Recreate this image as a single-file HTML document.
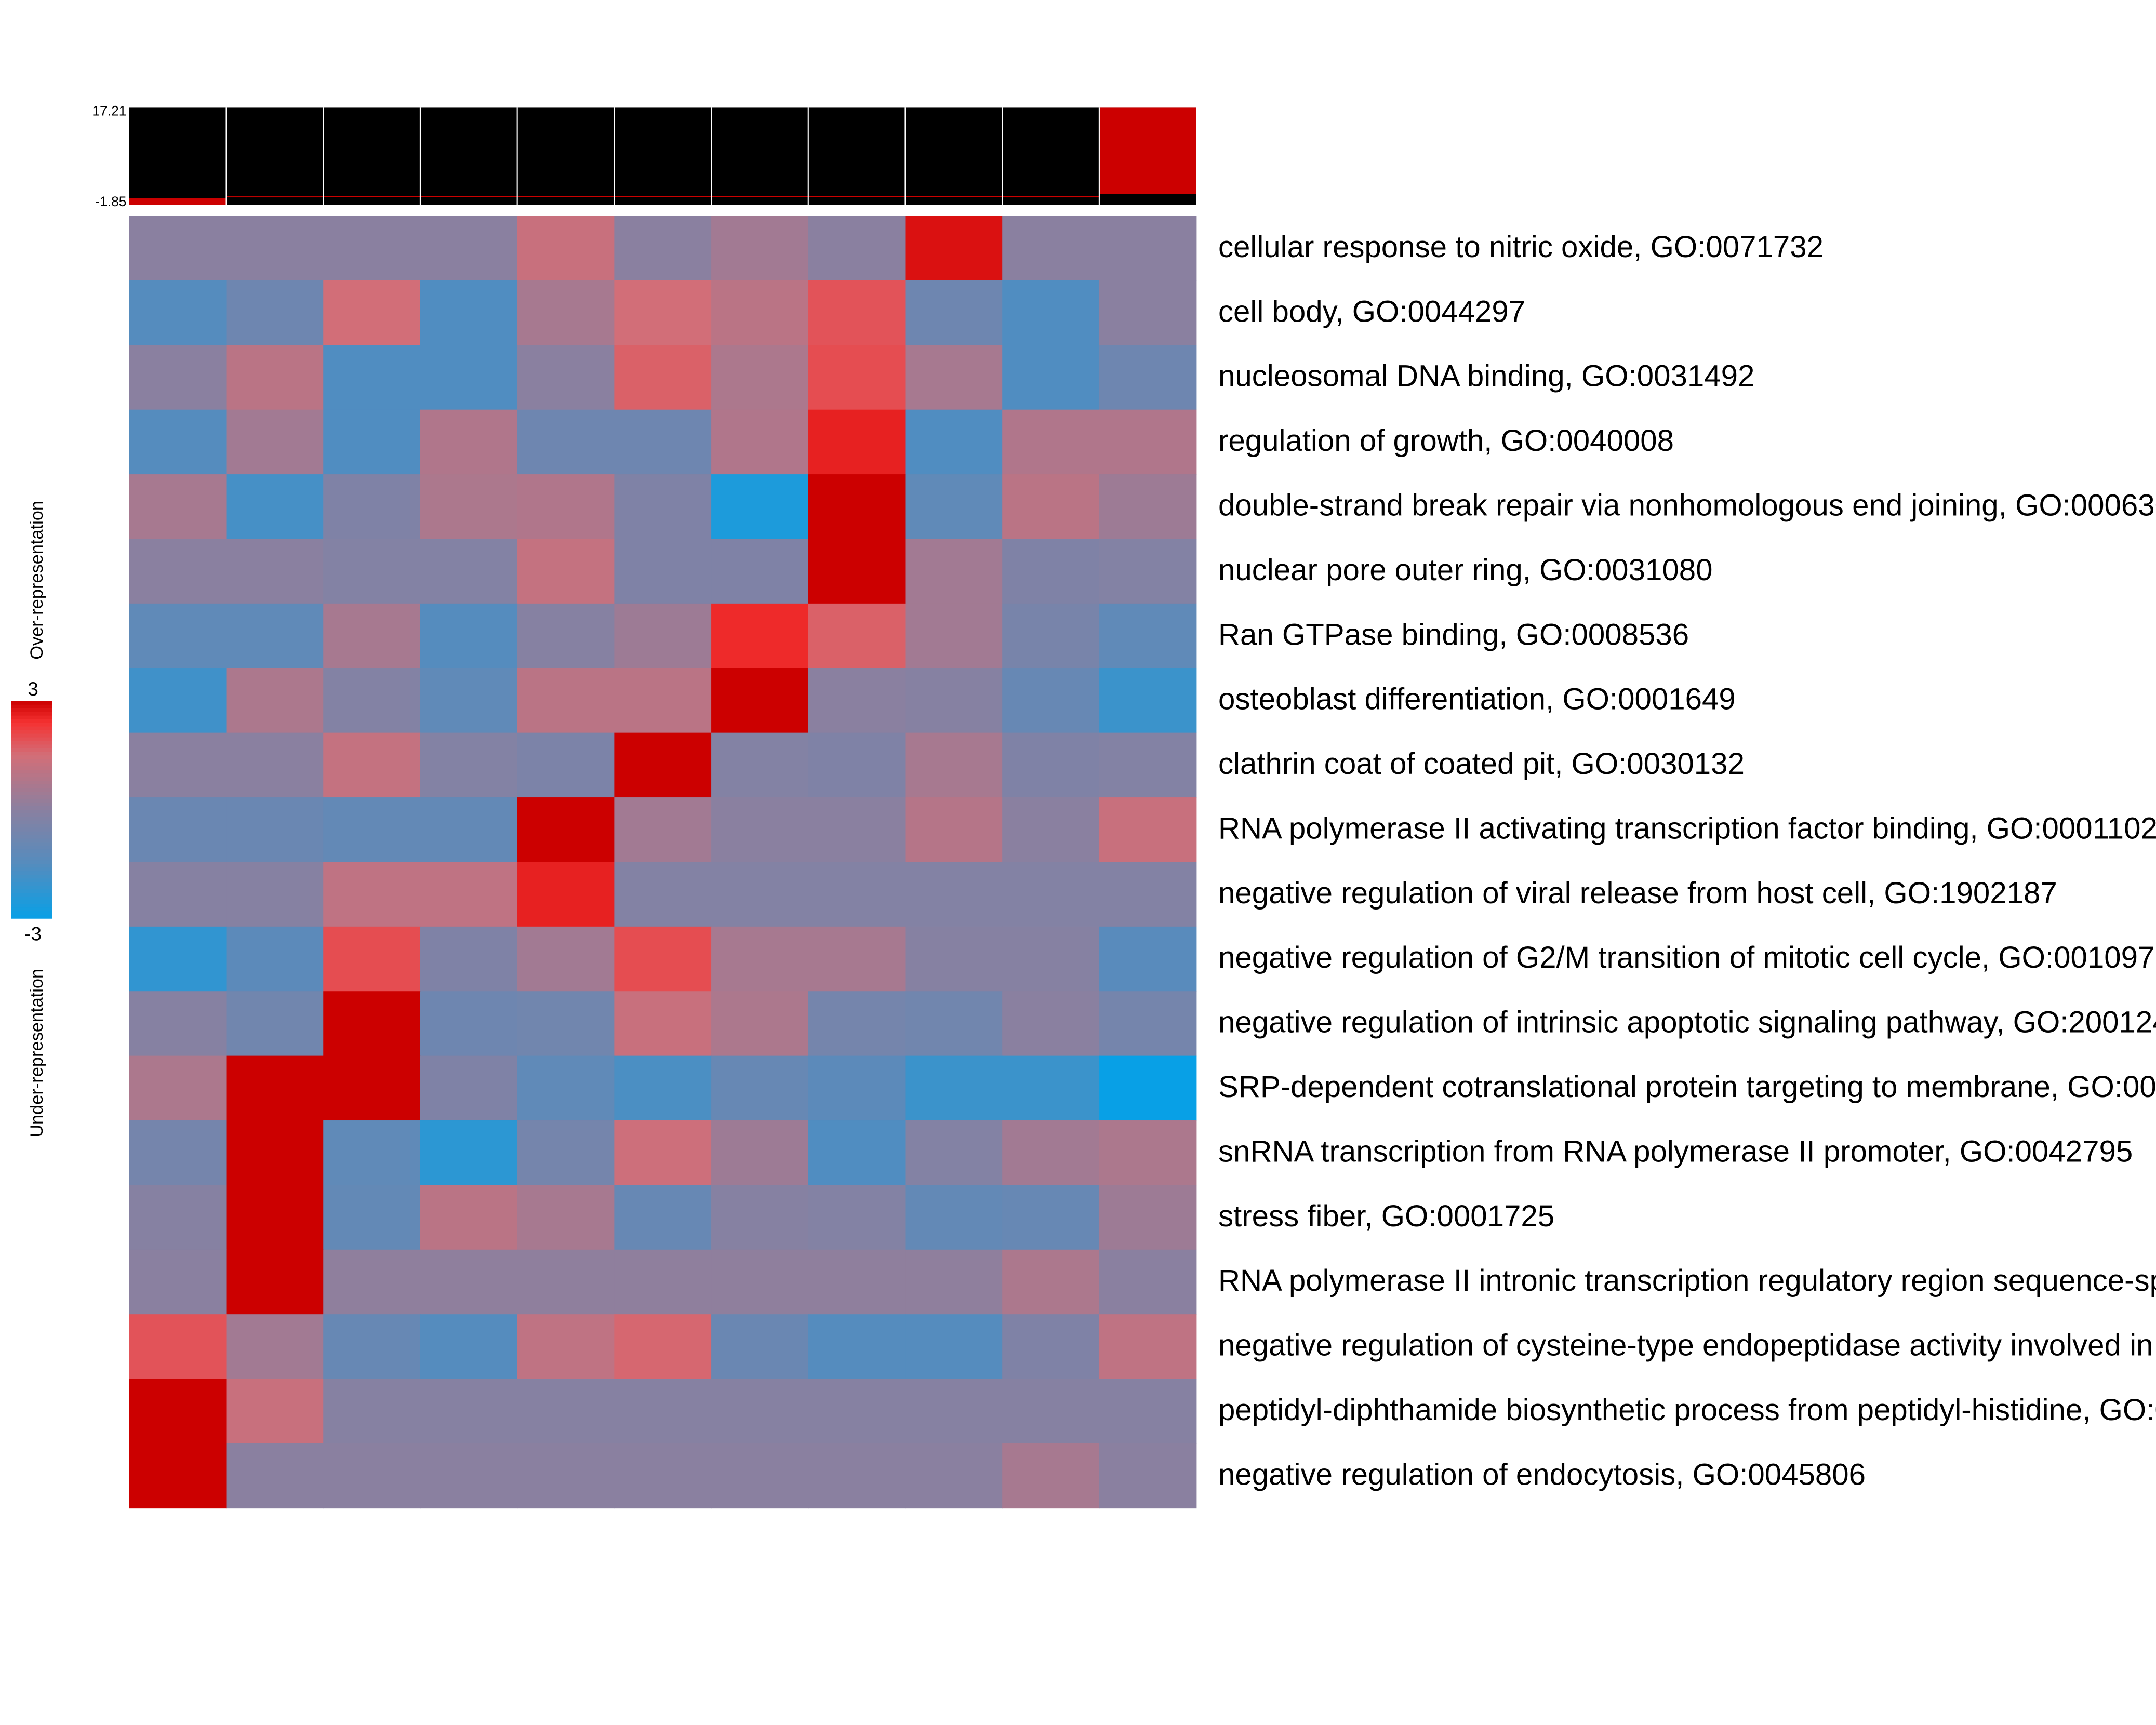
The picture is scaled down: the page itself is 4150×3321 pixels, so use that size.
<!DOCTYPE html>
<html><head><meta charset="utf-8">
<style>
html,body{margin:0;padding:0;background:#fff;}
svg{display:block;font-family:"Liberation Sans",Arial,sans-serif;}
</style></head>
<body>
<svg id="chart" width="4150" height="3321" viewBox="0 0 1568 1254.8" xmlns="http://www.w3.org/2000/svg">
<rect width="1568" height="1254.8" fill="#fff"/>
<g id="topbars"></g>
<g id="cells"></g>
<g id="labels"></g>
<g id="legend"></g>
<text x="92" y="84" text-anchor="end" font-size="10">17.21</text>
<text x="92" y="150" text-anchor="end" font-size="10">-1.85</text>
<text x="24" y="506" text-anchor="middle" font-size="14">3</text>
<text x="24" y="684" text-anchor="middle" font-size="14">-3</text>
<text transform="translate(31,422) rotate(-90)" text-anchor="middle" font-size="13">Over-representation</text>
<text transform="translate(31,766) rotate(-90)" text-anchor="middle" font-size="13">Under-representation</text>
</svg>
<script>
const rowLabels = [
"cellular response to nitric oxide, GO:0071732",
"cell body, GO:0044297",
"nucleosomal DNA binding, GO:0031492",
"regulation of growth, GO:0040008",
"double-strand break repair via nonhomologous end joining, GO:0006303",
"nuclear pore outer ring, GO:0031080",
"Ran GTPase binding, GO:0008536",
"osteoblast differentiation, GO:0001649",
"clathrin coat of coated pit, GO:0030132",
"RNA polymerase II activating transcription factor binding, GO:0001102",
"negative regulation of viral release from host cell, GO:1902187",
"negative regulation of G2/M transition of mitotic cell cycle, GO:0010972",
"negative regulation of intrinsic apoptotic signaling pathway, GO:2001243",
"SRP-dependent cotranslational protein targeting to membrane, GO:0006614",
"snRNA transcription from RNA polymerase II promoter, GO:0042795",
"stress fiber, GO:0001725",
"RNA polymerase II intronic transcription regulatory region sequence-specific DNA binding, GO:0001161",
"negative regulation of cysteine-type endopeptidase activity involved in apoptotic process, GO:0043154",
"peptidyl-diphthamide biosynthetic process from peptidyl-histidine, GO:0017183",
"negative regulation of endocytosis, GO:0045806"
];
const r01=[0,0,0,0,1.3,0,0.5,0,2.8,0,0];
const r02=[-1.5,-0.8,1.5,-1.6,0.6,1.5,1.0,1.9,-0.8,-1.6,0];
const r03=[0,1.0,-1.6,-1.6,0,1.7,0.7,2.0,0.6,-1.6,-0.8];
const r04=[-1.5,0.5,-1.6,0.8,-0.8,-0.8,0.8,2.6,-1.6,0.8,0.8];
const r05=[0.6,-1.8,-0.3,0.7,0.8,-0.3,-2.6,3,-1.2,1.0,0.4];
const r06=[0,0,-0.2,-0.2,1.2,-0.3,-0.3,3,0.5,-0.3,-0.2];
const r07=[-1.2,-1.2,0.6,-1.5,-0.1,0.4,2.5,1.7,0.5,-0.5,-1.2];
const r08=[-1.9,0.7,-0.2,-1.2,1.0,1.0,3,0,-0.1,-1.0,-2.0];
const r09=[0,0,1.2,-0.2,-0.4,3,-0.2,-0.3,0.6,-0.3,-0.2];
const r10=[-0.9,-0.9,-1.1,-1.1,3,0.5,0,0,0.9,0,1.3];
const r11=[-0.1,-0.1,1.1,1.1,2.6,-0.2,-0.2,-0.2,-0.2,-0.2,-0.2];
const r12=[-2.2,-1.3,2.0,-0.3,0.5,2.0,0.6,0.6,-0.1,-0.1,-1.4];
const r13=[-0.1,-0.7,3,-0.8,-0.7,1.3,0.7,-0.6,-0.7,0,-0.6];
const r14=[0.7,3,3,-0.3,-1.2,-1.7,-1.0,-1.3,-2.0,-2.0,-3];
const r15=[-0.6,3,-1.2,-2.3,-0.6,1.4,0.4,-1.6,-0.2,0.5,0.7];
const r16=[-0.1,3,-1.1,1.0,0.6,-1.0,-0.1,-0.2,-1.1,-1.0,0.4];
const r17=[0,3,0.1,0.1,0.1,0.1,0.1,0.1,0.1,0.7,0];
const r18=[1.9,0.5,-1.0,-1.5,1.1,1.6,-0.9,-1.5,-1.5,-0.3,1.1];
const r19=[3,1.3,-0.1,-0.1,-0.1,-0.1,-0.1,-0.1,-0.1,-0.1,-0.1];
const r20=[3,0,0,0,0,0,0,0,0,0.6,0];
const matrix=[r01,r02,r03,r04,r05,r06,r07,r08,r09,r10,r11,r12,r13,r14,r15,r16,r17,r18,r19,r20];
const redLow=[-1.85,-0.4,-0.3,-0.3,-0.3,-0.3,-0.3,-0.3,-0.3,-0.4,0.3];
const redHigh=[-0.6,-0.2,-0.1,-0.1,-0.1,-0.1,-0.1,-0.1,-0.1,-0.1,17.21];
const topMin=-1.85, topMax=17.21;

const NS="http://www.w3.org/2000/svg";
const X0=94, X1=870, Y0=157, Y1=1097, TB0=78, TB1=149;
const nC=11, nR=matrix.length;
const cw=(X1-X0)/nC, rh=(Y1-Y0)/nR;
const xPos=i=>X0+i*cw;
const yPos=j=>Y0+j*rh;
const yTop=v=>TB1-(v-topMin)/(topMax-topMin)*(TB1-TB0);

const stops=[[-3,[8,160,230]],[-1.5,[85,140,190]],[0,[138,128,160]],[1.5,[210,110,120]],[2.4,[245,50,50]],[3,[204,0,0]]];
function color(v){
  v=Math.max(-3,Math.min(3,v));
  for(let k=0;k<stops.length-1;k++){
    const [a,ca]=stops[k],[b,cb]=stops[k+1];
    if(v<=b){const t=(v-a)/(b-a);
      return "rgb("+ca.map((c,i)=>Math.round(c+(cb[i]-c)*t)).join(",")+")";}
  }
  return "rgb(204,0,0)";
}
function mk(tag,attrs,parent){const e=document.createElementNS(NS,tag);for(const k in attrs)e.setAttribute(k,attrs[k]);parent.appendChild(e);return e;}

const tb=document.getElementById("topbars");
for(let i=0;i<nC;i++){
  const b=mk("rect",{x:xPos(i),y:TB0,width:cw,height:TB1-TB0,fill:"#000"},tb);
  
  
  const r=mk("rect",{x:xPos(i),y:yTop(redHigh[i]),width:cw,height:yTop(redLow[i])-yTop(redHigh[i]),fill:"#cc0000"},tb);
  
  
  if(i>0){const l=mk("line",{x1:xPos(i),x2:xPos(i),y1:TB0,y2:TB1,stroke:"#fff","stroke-width":0.8},tb);
    
    }
}
const cg=document.getElementById("cells");
matrix.forEach((row,j)=>row.forEach((v,i)=>{
  const c=mk("rect",{x:xPos(i),y:yPos(j),width:cw+0.3,height:rh+0.3,fill:color(v)},cg);
  
  
}));
const lg=document.getElementById("labels");
rowLabels.forEach((t,j)=>{
  const e=mk("text",{x:886,y:yPos(j)+rh/2+6.5,"font-size":22,fill:"#000"},lg);
  e.textContent=t;
  
  
});
const leg=document.getElementById("legend");
const LY0=510,LY1=668,nSeg=60;
for(let k=0;k<nSeg;k++){
  const v=3-6*(k+0.5)/nSeg;
  const s=mk("rect",{x:8,y:LY0+k*(LY1-LY0)/nSeg,width:30,height:(LY1-LY0)/nSeg+0.3,fill:color(v)},leg);
  
  
}
</script>
</body></html>
